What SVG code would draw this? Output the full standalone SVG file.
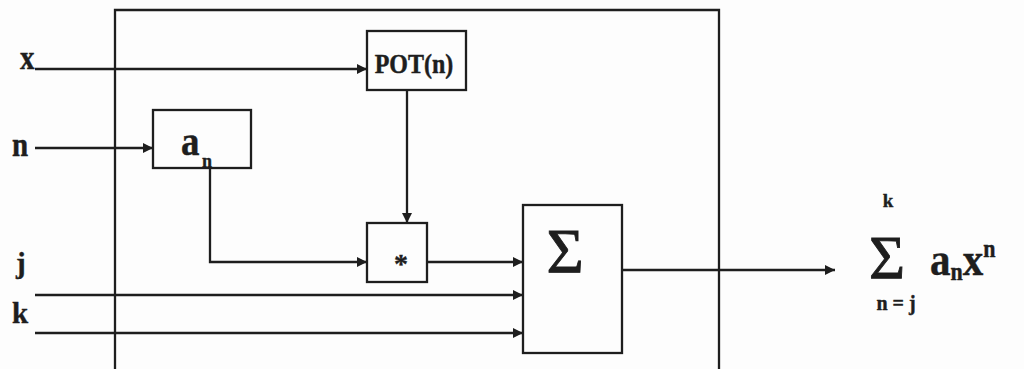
<svg xmlns="http://www.w3.org/2000/svg" width="1024" height="369" viewBox="0 0 1024 369">
  <style>
    .box { fill: none; stroke: #1e1e1e; stroke-width: 2.3; }
    .wire { fill: none; stroke: #1e1e1e; stroke-width: 2.3; }
    .lbl { font-family: "Liberation Serif", "Times New Roman", serif; font-weight: bold; fill: #1e1e1e; stroke: #1e1e1e; stroke-width: 0.4; }
    .sig { font-family: "Liberation Serif", "Times New Roman", serif; fill: #1e1e1e; stroke: #1e1e1e; stroke-width: 0.9; }
  </style>
  <defs>
    <marker id="arr" viewBox="0 0 10 10" refX="10" refY="5" markerWidth="11" markerHeight="10" markerUnits="userSpaceOnUse" orient="auto">
      <path d="M0,0 L10,5 L0,10 z" fill="#1e1e1e"/>
    </marker>
  </defs>
  <rect width="1024" height="369" fill="#fdfdfd"/>

  <g id="outer-frame">
    <path class="box" d="M115,375 V10 H719 V375"/>
  </g>

  <g id="input-labels">
    <text class="lbl" font-size="29" transform="translate(20,69) scale(1,1.15)">x</text>
    <text class="lbl" font-size="29" transform="translate(12,156) scale(1,1.15)">n</text>
    <text class="lbl" font-size="29" transform="translate(16,273)">j</text>
    <text class="lbl" font-size="29" transform="translate(12,323)">k</text>
  </g>

  <g id="node-pot">
    <rect class="box" x="367" y="31" width="99" height="59"/>
    <text class="lbl" font-size="24" text-anchor="middle" transform="translate(414,73) scale(1,1.15)">POT(n)</text>
  </g>

  <g id="node-an">
    <rect class="box" x="153" y="110" width="98" height="58"/>
    <text class="lbl" font-size="37" transform="translate(181,155) scale(1,1.15)">a</text>
    <text class="lbl" font-size="18" transform="translate(202,167)">n</text>
  </g>

  <g id="node-mult">
    <rect class="box" x="367" y="223" width="60" height="59"/>
    <text class="lbl" font-size="28" text-anchor="middle" transform="translate(401,273)">*</text>
  </g>

  <g id="node-sum">
    <rect class="box" x="523" y="205" width="99" height="148"/>
    <text class="sig" font-size="64" text-anchor="middle" transform="translate(565,273)">Σ</text>
  </g>

  <g id="result">
    <text class="lbl" font-size="19" text-anchor="middle" transform="translate(888,207)">k</text>
    <text class="sig" font-size="62" text-anchor="middle" transform="translate(887,278)">Σ</text>
    <text class="lbl" font-size="41" transform="translate(930,275) scale(1,1.15)"><tspan x="0">a</tspan><tspan font-size="22" dy="4">n</tspan><tspan dy="-4">x</tspan><tspan font-size="22" dy="-16">n</tspan></text>
    <text class="lbl" font-size="20" text-anchor="middle" transform="translate(896,310) scale(1,1.1)">n = j</text>
  </g>

  <g id="connectors">
    <path class="wire" d="M35,69 H367" marker-end="url(#arr)"/>
    <path class="wire" d="M35,148 H153" marker-end="url(#arr)"/>
    <path class="wire" d="M210,168 V262 H367" marker-end="url(#arr)"/>
    <path class="wire" d="M407,90 V223" marker-end="url(#arr)"/>
    <path class="wire" d="M427,262 H523" marker-end="url(#arr)"/>
    <path class="wire" d="M35,295 H523" marker-end="url(#arr)"/>
    <path class="wire" d="M35,333 H523" marker-end="url(#arr)"/>
    <path class="wire" d="M622,270 H835" marker-end="url(#arr)"/>
  </g>
</svg>
